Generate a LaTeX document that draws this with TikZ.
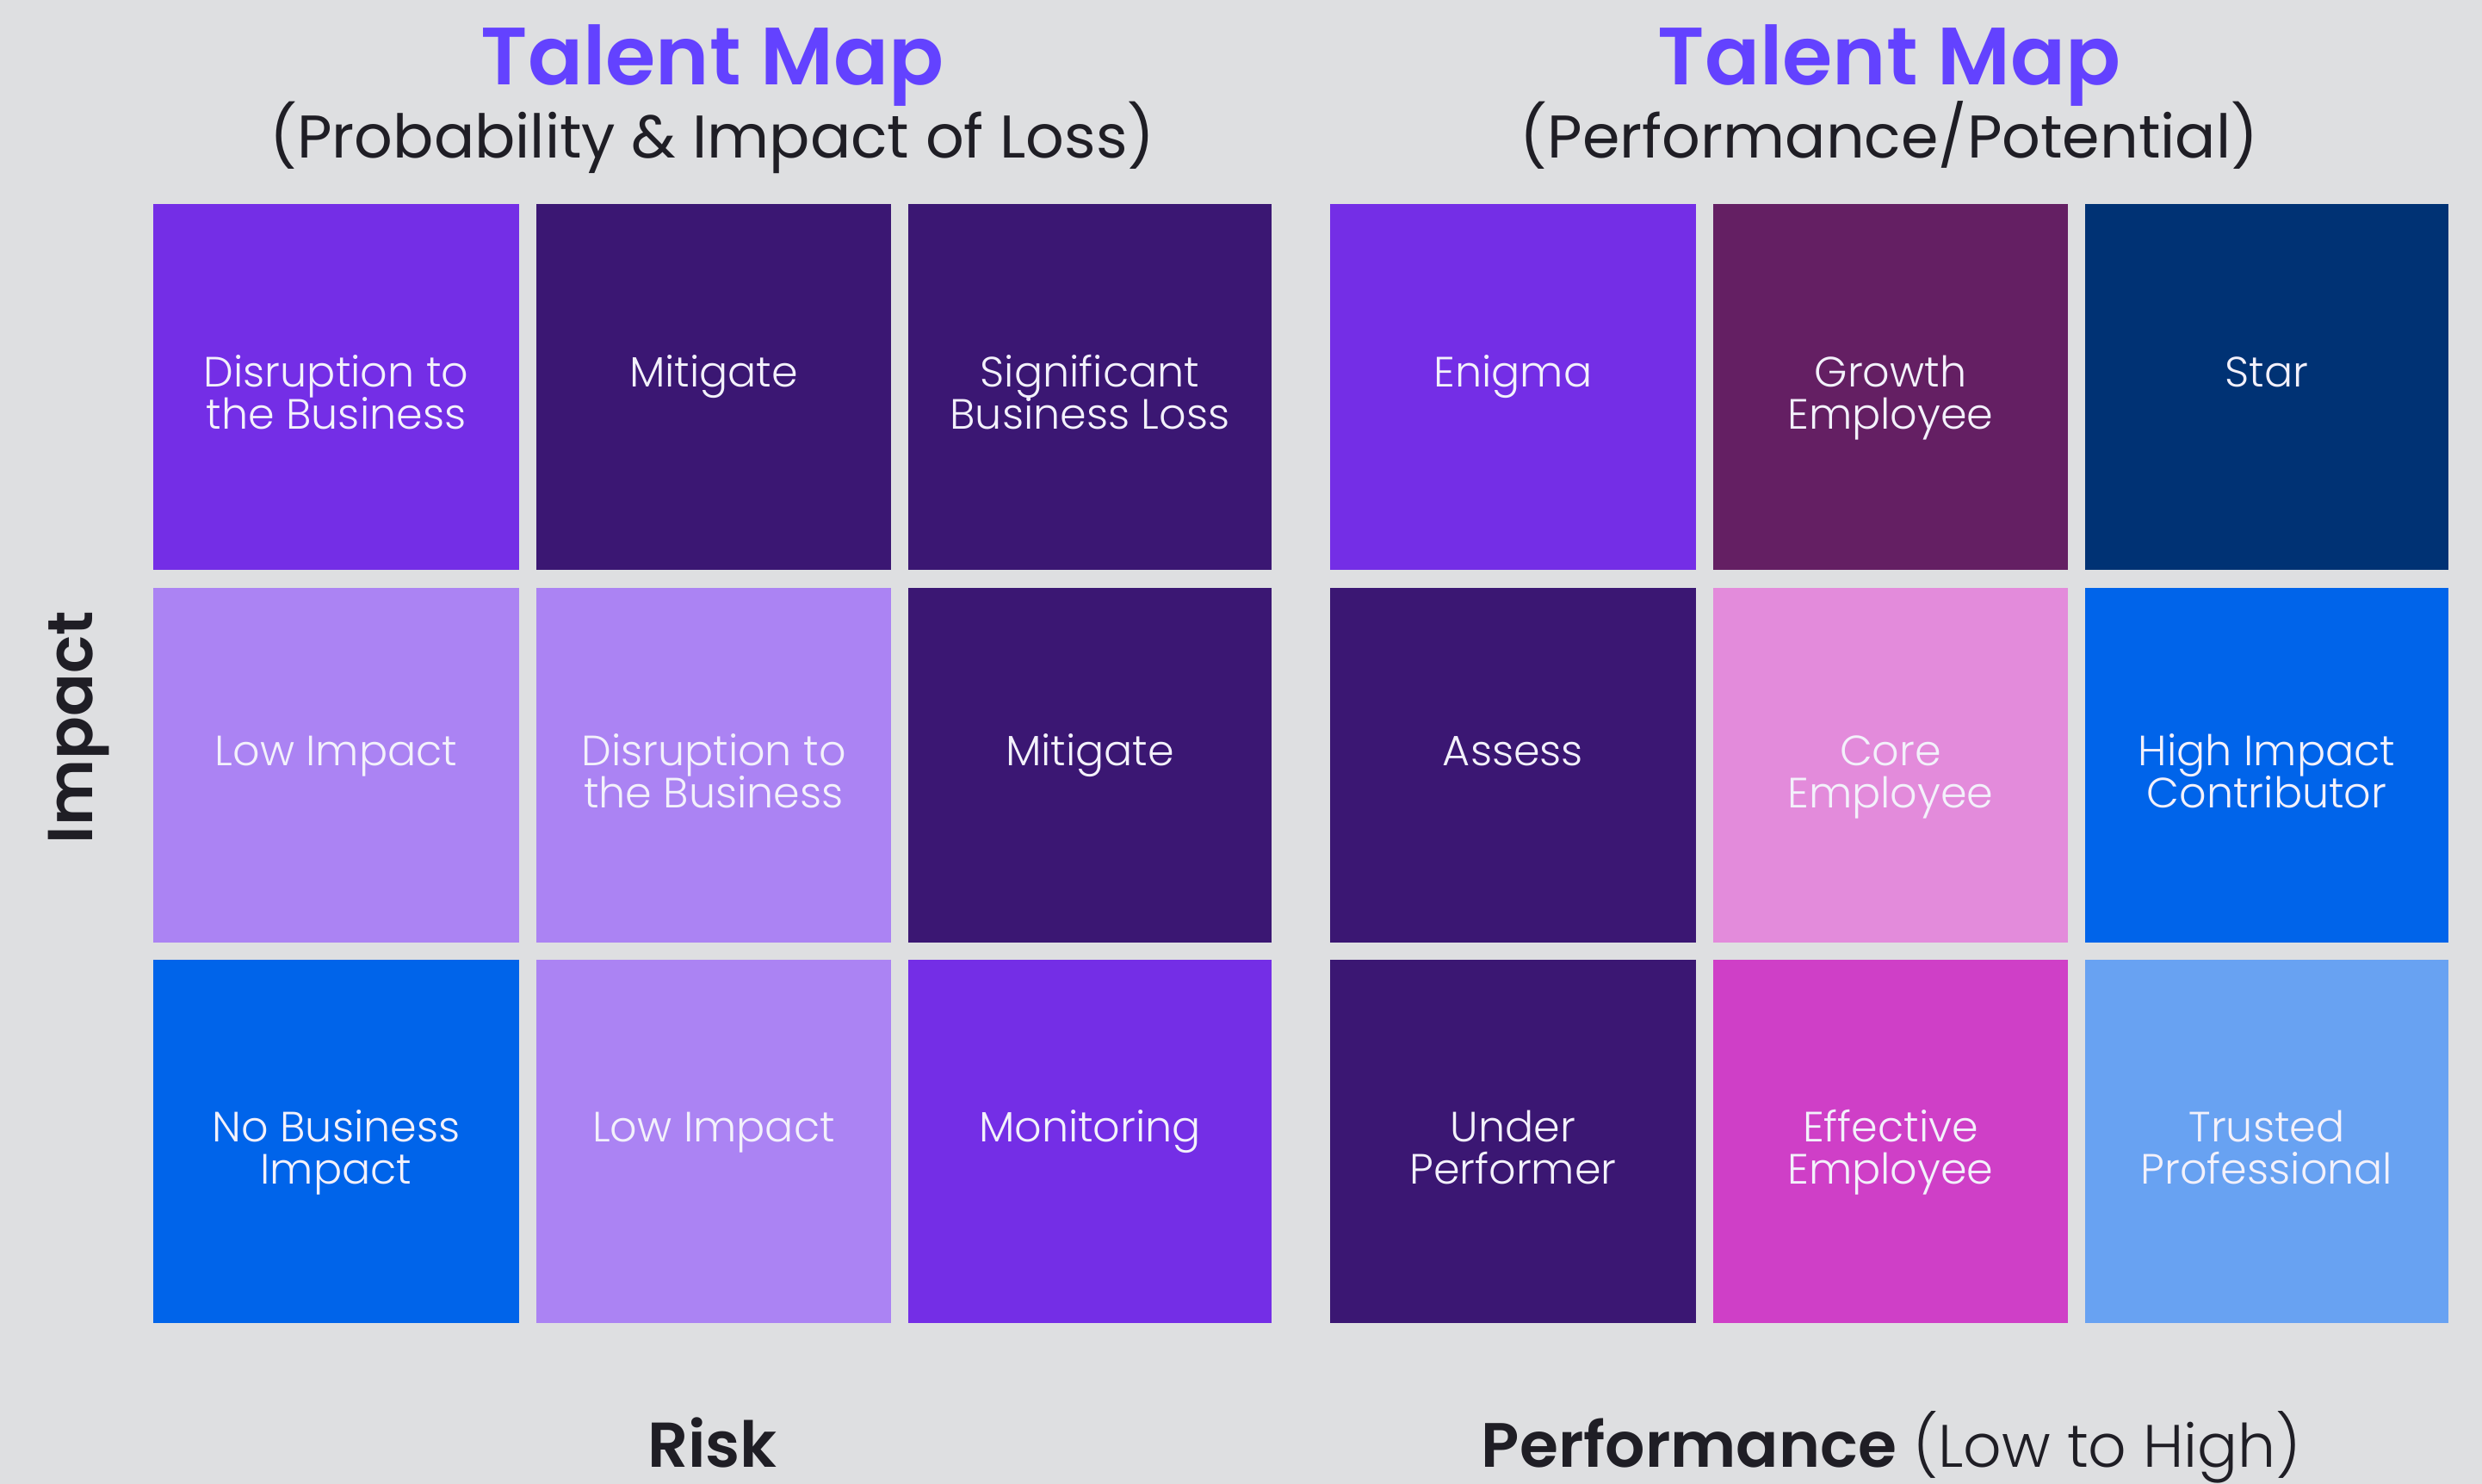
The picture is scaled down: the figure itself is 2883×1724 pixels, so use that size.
\documentclass[tikz,border=0pt]{standalone}
\usepackage{fontspec}
\setmainfont{Poppins}[UprightFont=* Light, BoldFont=* SemiBold]
\newfontfamily\regfont{Poppins}
\usetikzlibrary{calc}
\lineskiplimit=-100pt
\lineskip=0pt
\definecolor{bgc}{HTML}{DEDFE1}
\definecolor{titlec}{HTML}{6342FF}
\definecolor{darkt}{HTML}{1F1E25}
\definecolor{brightp}{HTML}{742EE6}
\definecolor{darkp}{HTML}{3B1773}
\definecolor{lightp}{HTML}{AB83F3}
\definecolor{bluec}{HTML}{0064EA}
\definecolor{maroonc}{HTML}{641F63}
\definecolor{navyc}{HTML}{003274}
\definecolor{pinkc}{HTML}{E38BDB}
\definecolor{magc}{HTML}{CF3FC7}
\definecolor{lblue}{HTML}{68A2F2}
\definecolor{celltc}{HTML}{F3F1FB}
\tikzset{
  cellbg/.style={rectangle, draw=none, inner sep=0pt, outer sep=0pt, anchor=north west},
  celltext/.style={text=celltc, align=center, inner sep=0pt,
    font=\fontsize{12.3}{12.25}\selectfont},
  titletext/.style={text=titlec, inner sep=0pt, font=\bfseries\fontsize{23.6}{28}\selectfont},
  subtext/.style={text=darkt, inner sep=0pt, font=\regfont\fontsize{17.5}{20}\selectfont},
  axistext/.style={text=darkt, inner sep=0pt, font=\fontsize{18.4}{22}\selectfont},
}
% #1 name, #2-#5 box corners (px), #6 colour, #7 text, #8 shift of last baseline (px)
\newcommand\cellbox[8]{%
  \node[cellbg, fill=#6, minimum width={(#4-#2)*0.25pt}, minimum height={(#5-#3)*0.25pt}] (#1) at (#2,#3) {};
  \node[celltext, anchor=base] (#1t) at ($(#1.center)+(0,#8)$) {#7};
}
\begin{document}
\begin{tikzpicture}[x=0.25pt, y=-0.25pt]
\fill[bgc] (0,0) rectangle (2883,1724);
\useasboundingbox (0,0) rectangle (2883,1724);
% titles
\node[titletext, anchor=base] (tl) at (827.5,98) {Talent Map};
\node[subtext, anchor=base] (sl) at (827.5,183) {(Probability \& Impact of Loss)};
\node[titletext, anchor=base] (tr) at (2194.5,98) {Talent Map};
\node[subtext, anchor=base] (sr) at (2194.5,183) {(Performance/Potential)};
% left grid
\cellbox{a11}{178}{237}{603}{662}{brightp}{Disruption to\\the Business}{49}
\cellbox{a12}{623}{237}{1035}{662}{darkp}{Mitigate}{0}
\cellbox{a13}{1055}{237}{1477}{662}{darkp}{Significant\\Business Loss}{49}
\cellbox{a21}{178}{683}{603}{1095}{lightp}{Low Impact}{0}
\cellbox{a22}{623}{683}{1035}{1095}{lightp}{Disruption to\\the Business}{49}
\cellbox{a23}{1055}{683}{1477}{1095}{darkp}{Mitigate}{0}
\cellbox{a31}{178}{1115}{603}{1537}{bluec}{No Business\\Impact}{49}
\cellbox{a32}{623}{1115}{1035}{1537}{lightp}{Low Impact}{0}
\cellbox{a33}{1055}{1115}{1477}{1537}{brightp}{Monitoring}{0}
% right grid
\cellbox{b11}{1545}{237}{1970}{662}{brightp}{Enigma}{0}
\cellbox{b12}{1990}{237}{2402}{662}{maroonc}{Growth\\Employee}{49}
\cellbox{b13}{2422}{237}{2844}{662}{navyc}{Star}{0}
\cellbox{b21}{1545}{683}{1970}{1095}{darkp}{Assess}{0}
\cellbox{b22}{1990}{683}{2402}{1095}{pinkc}{Core\\Employee}{49}
\cellbox{b23}{2422}{683}{2844}{1095}{bluec}{High Impact\\Contributor}{49}
\cellbox{b31}{1545}{1115}{1970}{1537}{darkp}{Under\\Performer}{49}
\cellbox{b32}{1990}{1115}{2402}{1537}{magc}{Effective\\Employee}{49}
\cellbox{b33}{2422}{1115}{2844}{1537}{lblue}{Trusted\\Professional}{49}
% axes
\node[axistext, anchor=base, rotate=90] (imp) at (108,845) {\bfseries Impact};
\node[axistext, anchor=base] (risk) at (827.5,1704) {\bfseries Risk};
\node[axistext, anchor=base, font=\fontsize{17.4}{22}\selectfont] (perf) at (2197,1704) {{\bfseries\fontsize{18.2}{22}\selectfont Performance} (Low to High)};
\end{tikzpicture}
\end{document}
